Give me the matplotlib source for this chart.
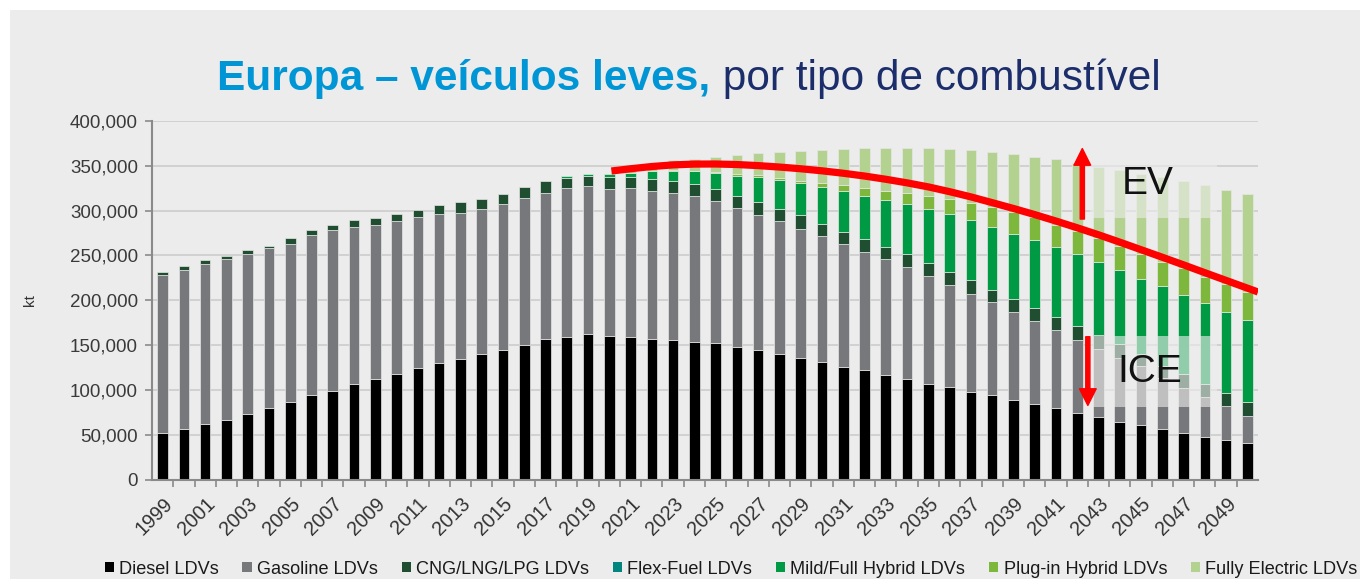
import numpy as np
import matplotlib
matplotlib.use("Agg")
import matplotlib.pyplot as plt
from matplotlib.patches import Rectangle, Patch

plt.rcParams['font.family'] = ['Liberation Sans', 'DejaVu Sans']

# ---------------- data (kt) ----------------
years = list(range(1999, 2051))

diesel = [52000, 56300, 62000, 66700, 73000, 80400, 86300, 94400, 99300, 106700,
          112000, 117800, 125200, 130400, 135200, 140000, 144400, 150700, 157000,
          159300, 163000, 160500, 159300, 157400, 156300, 154100, 152000, 148100,
          144400, 140700, 135900, 131900, 125900, 122200, 117400, 112200, 107400,
          103000, 97800, 94100, 89500, 84400, 79600, 74100, 70400, 64800, 61100,
          56300, 52600, 48100, 44400, 40700]

gasoline = [176000, 177000, 178700, 179300, 179000, 177600, 176300, 178900, 178700,
            175500, 172000, 170700, 168100, 165200, 162600, 161500, 162600, 163300,
            163000, 165900, 164400, 163300, 165900, 164800, 163700, 161900, 158400,
            154900, 150800, 147400, 143600, 139200, 136300, 131500, 128200, 124800,
            120000, 114000, 109600, 103700, 98000, 92600, 87800, 81500, 75600, 71200,
            66000, 57500, 50300, 43800, 37800, 30400]

cng_lng_lpg = [3500, 4700, 4100, 3600, 4000, 3000, 6400, 5200, 6400, 7100, 8000, 7800,
               7700, 10400, 11200, 11800, 11500, 12000, 13000, 11500, 11100, 13200,
               11800, 13400, 13300, 13000, 13100, 13000, 14300, 13900, 15000, 14400,
               14100, 14100, 13700, 14100, 14100, 14100, 14800, 13300, 14500, 14900,
               14100, 15500, 15900, 15000, 13000, 13000, 15600, 14800, 14800, 15900]

flex_fuel = [0, 0, 0, 0, 0, 0, 0, 0, 0, 0, 0, 0, 0, 0, 0, 0, 0, 0, 0, 0, 0, 0, 0, 0,
             0, 0, 0, 0, 0, 0, 0, 0, 0, 0, 0, 0, 0, 0, 0, 0, 0, 0, 0, 0, 0, 0, 0, 0,
             0, 0, 0, 0]

mild_full_hybrid = [0, 0, 0, 0, 0, 0, 0, 0, 0, 0, 0, 0, 0, 0, 0, 0, 0, 0, 0,
                    1500, 2000, 3700, 5200, 8800, 11100, 14700, 18000, 22900, 27500,
                    32100, 35900, 41200, 45900, 48900, 52600, 55900, 60500, 65200,
                    66700, 71100, 72100, 75500, 77800, 80400, 80700, 83000, 84000,
                    88800, 87100, 90300, 90000, 90800]

plugin_hybrid = [0, 0, 0, 0, 0, 0, 0, 0, 0, 0, 0, 0, 0, 0, 0, 0, 0, 0, 0, 0, 0, 0,
                 0, 0, 500, 800, 1000, 1500, 2000, 2500, 3000, 4000, 6000, 8000,
                 10000, 12000, 14000, 16500, 19000, 21500, 24000, 25000, 25000, 26000,
                 27000, 26000, 27500, 27500, 30000, 29500, 31000, 31500]

fully_electric = [0, 0, 0, 0, 0, 0, 0, 0, 0, 0, 0, 0, 0, 0, 0, 0, 0, 0, 0, 0, 0, 0,
                  1500, 3000, 11400, 13000, 17500, 21600, 24500, 28200, 32600, 36700,
                  40300, 44900, 47900, 50800, 53600, 55700, 59500, 61100, 65000, 67600,
                  73100, 75500, 79400, 85000, 89400, 93900, 97400, 101500, 105000, 109200]

series_names = ["Diesel LDVs", "Gasoline LDVs", "CNG/LNG/LPG LDVs", "Flex-Fuel LDVs",
                "Mild/Full Hybrid LDVs", "Plug-in Hybrid LDVs", "Fully Electric LDVs"]
series_colors = ["#000000", "#77787b", "#1f4e30", "#00857f", "#009a44", "#7db83c", "#b4d28f"]

# red trend annotation
trend_years = [2020.1, 2021, 2022, 2023, 2024, 2025, 2026, 2027, 2028, 2029, 2030,
               2031, 2032, 2033, 2034, 2035, 2036, 2037, 2038, 2039, 2040, 2041,
               2042, 2043, 2044, 2045, 2046, 2047, 2048, 2049, 2050, 2050.5]
trend_values = [344000, 346500, 349000, 350800, 351700, 351800, 351200, 350000,
                348400, 346500, 344200, 341500, 338400, 334800, 330800, 326300,
                321000, 315200, 308800, 302300, 295500, 288300, 280800, 273000,
                264800, 256400, 248000, 239500, 230800, 222200, 213600, 209300]

title_bold = "Europa – veículos leves,"
title_rest = " por tipo de combustível"

# ---------------- figure ----------------
W, H = 1360, 579
fig = plt.figure(figsize=(W / 100, H / 100), dpi=100)
fig.patch.set_facecolor("white")
fig.add_artist(Rectangle((10 / W, 0), 1 - 10 / W, 1 - 10 / H, transform=fig.transFigure,
                         facecolor="#ececec", edgecolor="none", zorder=-10))

ax = fig.add_axes([152 / W, 99 / H, 1106 / W, 359.3 / H])
ax.patch.set_alpha(0)

x = np.arange(len(years))
bottom = np.zeros(len(years))
all_series = [diesel, gasoline, cng_lng_lpg, flex_fuel, mild_full_hybrid,
              plugin_hybrid, fully_electric]
for vals, col in zip(all_series, series_colors):
    v = np.array(vals, dtype=float)
    m = v > 0
    ax.bar(x[m], v[m], bottom=bottom[m], width=0.5, color=col,
           edgecolor="#e6e6e6", linewidth=0.5, zorder=2)
    bottom += v

ax.set_xlim(-0.5, len(years) - 0.5)
ax.set_ylim(0, 400000)
ax.set_yticks(np.arange(0, 400001, 50000))
ax.set_yticklabels([f"{v:,}" for v in range(0, 400001, 50000)])
ax.grid(axis="y", color="#cfcfcf", linewidth=1.3, zorder=0)
ax.set_axisbelow(True)

ax.set_xticks(x[::2])
ax.set_xticklabels([str(y) for y in years[::2]], rotation=45, ha="right",
                   rotation_mode="anchor")
ax.set_xticks(x[:-1] + 0.5, minor=True)
ax.tick_params(axis="x", which="major", length=0, pad=10, labelsize=14.3, labelcolor="#333333")
ax.tick_params(axis="x", which="minor", length=5, width=1.2, color="#8a8a8a", direction="out")
ax.tick_params(axis="y", length=5, width=1.2, color="#8a8a8a", labelsize=13.5,
               labelcolor="#3a3a3a", pad=5)

for s in ["top", "right"]:
    ax.spines[s].set_visible(False)
for s in ["left", "bottom"]:
    ax.spines[s].set_color("#8a8a8a")
    ax.spines[s].set_linewidth(1.5)

ax.set_ylabel("kt", fontsize=11, color="#333333")
ax.yaxis.set_label_coords(-0.104, 0.5)

# faded label boxes
ax.add_patch(Rectangle((43.6, 292000), 5.95, 90000, facecolor="#ececec", alpha=0.62,
                       edgecolor="none", zorder=3))
ax.add_patch(Rectangle((43.6, 81000), 5.95, 79000, facecolor="#ececec", alpha=0.62,
                       edgecolor="none", zorder=3))

# red trend curve
ax.plot([y - years[0] for y in trend_years], trend_values, color="#ff0000", lw=5.2,
        solid_capstyle="butt", solid_joinstyle="round", zorder=4)

# arrows
ax.annotate("", xy=(43.24, 369000), xytext=(43.24, 290500),
            arrowprops=dict(width=3, headwidth=12, headlength=12, color="#ff0000",
                            shrink=0), zorder=5)
ax.annotate("", xy=(43.5, 83000), xytext=(43.5, 159500),
            arrowprops=dict(width=3, headwidth=12, headlength=12, color="#ff0000",
                            shrink=0), zorder=5)

ax.text(46.3, 330000, "EV", fontsize=28, color="#111111", ha="center", va="center", zorder=6)
ax.text(46.4, 120000, "ICE", fontsize=28, color="#111111", ha="center", va="center", zorder=6)

# title in two styles
fig.canvas.draw()
r = fig.canvas.get_renderer()
ty = 1 - 90 / H
t1 = fig.text(0, ty, title_bold, fontsize=30.5, fontweight="bold", color="#0096d6",
              va="baseline", ha="left")
t2 = fig.text(0, ty, title_rest, fontsize=30.5, color="#1b2d6b", va="baseline", ha="left")
w1 = t1.get_window_extent(r).width
w2 = t2.get_window_extent(r).width
x0 = 689 - (w1 + w2) / 2
t1.set_x(x0 / W)
t2.set_x((x0 + w1) / W)

# legend
handles = [Patch(facecolor=c, edgecolor="none") for c in series_colors]
fig.legend(handles, series_names, loc="center", bbox_to_anchor=(731 / W, 1 - 569 / H),
           ncol=7, frameon=False, fontsize=13.1, handlelength=0.5, handleheight=0.5,
           handletextpad=0.3, columnspacing=1.3, labelcolor="#1a1a1a")

fig.savefig("out.png", dpi=100, facecolor=fig.get_facecolor())
